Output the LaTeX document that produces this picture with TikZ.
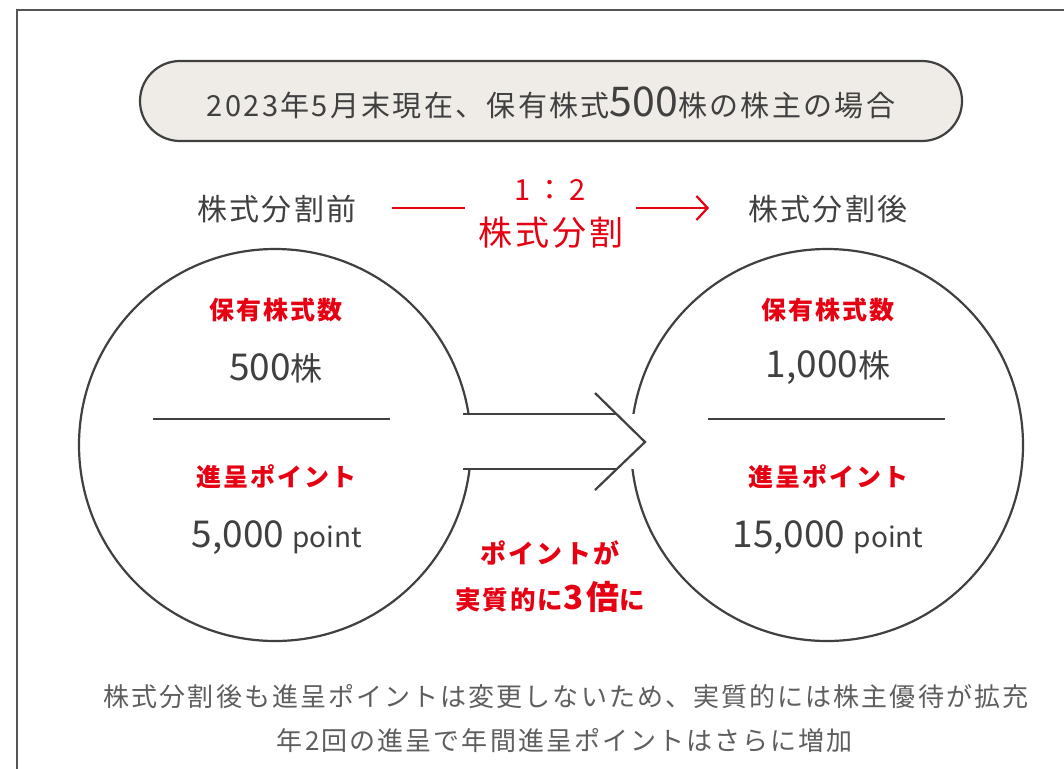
\documentclass[tikz,border=0pt]{standalone}
\usepackage{fontspec}
\usetikzlibrary{arrows.meta}
\setmainfont{Noto Sans CJK JP}
\newfontfamily\jpsp{Noto Sans CJK JP}[LetterSpace=8]
\definecolor{txtgray}{HTML}{404040}
\definecolor{lightgray}{HTML}{5E5E5E}
\definecolor{jred}{HTML}{E60012}
\definecolor{pillfill}{HTML}{EFECE8}
\definecolor{framec}{HTML}{555555}
\tikzset{
  lbl/.style={inner sep=0pt, anchor=center, text=txtgray},
  redlbl/.style={inner sep=0pt, anchor=center, text=jred, font=\bfseries\fontsize{25}{28}\selectfont},
  bigcircle/.style={draw=txtgray, line width=2.2pt, fill=white},
  divider/.style={draw=txtgray, line width=2.2pt},
  arrowline/.style={draw=txtgray, line width=2.2pt},
}
\begin{document}
\begin{tikzpicture}[x=1pt,y=-1pt]
\useasboundingbox (0,0) rectangle (1064,768);
\fill[white] (0,0) rectangle (1064,768);
% outer frame
\draw[framec, line width=2.4pt] (17,790) -- (17,10) -- (1090,10);
% title pill
\draw[txtgray, line width=2.2pt, fill=pillfill, rounded corners=40pt] (140,61) rectangle (962,141);
\node[lbl] (title) at (551,103) {\jpsp\fontsize{29}{32}\selectfont 2023年5月末現在、保有株式{\rmfamily\fontsize{41}{44}\selectfont 500}株の株主の場合};
% before / after
\node[lbl] (before) at (277,209) {\jpsp\fontsize{30}{33}\selectfont 株式分割前};
\node[lbl] (after) at (828,209) {\jpsp\fontsize{30}{33}\selectfont 株式分割後};
\node[inner sep=0pt, text=jred] (ratio) at (550,190) {\fontsize{29}{31}\selectfont 1\hspace{5pt}：\hspace{5pt}2};
\node[inner sep=0pt, text=jred] (split) at (551,233) {\jpsp\fontsize{34}{38}\selectfont 株式分割};
\coordinate (rl1) at (392,208);
\coordinate (rl2) at (465,208);
\coordinate (ra1) at (636,208);
\coordinate (ra2) at (709,208);
\draw[jred, line width=2.2pt] (rl1) -- (rl2);
\draw[jred, line width=2.2pt, -{Straight Barb[length=11pt,width=24pt,line width=2.2pt]}] (ra1) -- (ra2);
% circles
\node[bigcircle, circle, minimum size=392pt, inner sep=0pt] (cl) at (275,445) {};
\node[bigcircle, circle, minimum size=392pt, inner sep=0pt] (cr) at (827,445) {};
% big arrow
\fill[white] (463,414) rectangle (641,469);
\coordinate (a1) at (463,414);
\coordinate (a2) at (617,414);
\coordinate (a3) at (463,469);
\coordinate (a4) at (617,469);
\coordinate (h1) at (595,393);
\coordinate (h2) at (645,442);
\coordinate (h3) at (595,490);
\draw[arrowline] (a1) -- (a2);
\draw[arrowline] (a3) -- (a4);
\draw[arrowline, line join=miter] (h1) -- (h2) -- (h3);
% dividers
\coordinate (dl1) at (153,419); \coordinate (dl2) at (390,419);
\coordinate (dr1) at (708,419); \coordinate (dr2) at (945,419);
\draw[divider] (dl1) -- (dl2);
\draw[divider] (dr1) -- (dr2);
% left circle texts
\node[redlbl] (lh) at (276,310) {\jpsp 保有株式数};
\node[lbl] (lshares) at (276,368) {\fontsize{37}{40}\selectfont 500\fontsize{32}{34}\selectfont 株};
\node[redlbl] (lp) at (276,477) {\jpsp 進呈ポイント};
\node[lbl] (lpts) at (277,538) {\fontsize{37}{40}\selectfont 5,000 \fontsize{28}{30}\selectfont point};
% right circle texts
\node[redlbl] (rh) at (828,310) {\jpsp 保有株式数};
\node[lbl] (rshares) at (828,368) {\fontsize{37}{40}\selectfont 1,000\fontsize{32}{34}\selectfont 株};
\node[redlbl] (rp) at (828,477) {\jpsp 進呈ポイント};
\node[lbl] (rpts) at (828,538) {\fontsize{37}{40}\selectfont 15,000 \fontsize{28}{30}\selectfont point};
% middle red
\node[redlbl] (m1) at (550,553) {\jpsp\fontsize{26}{29}\selectfont ポイントが};
\node[redlbl] (m2) at (550,597) {\jpsp\fontsize{25.5}{29}\selectfont 実質的に{\fontsize{33}{35}\selectfont 3倍}に};
% bottom text
\node[lbl, text=lightgray] (b1) at (566,697) {\jpsp\fontsize{26}{29}\selectfont 株式分割後も進呈ポイントは変更しないため、実質的には株主優待が拡充};
\node[lbl, text=lightgray] (b2) at (565,741) {\jpsp\fontsize{26}{29}\selectfont 年2回の進呈で年間進呈ポイントはさらに増加};
\end{tikzpicture}
\end{document}
